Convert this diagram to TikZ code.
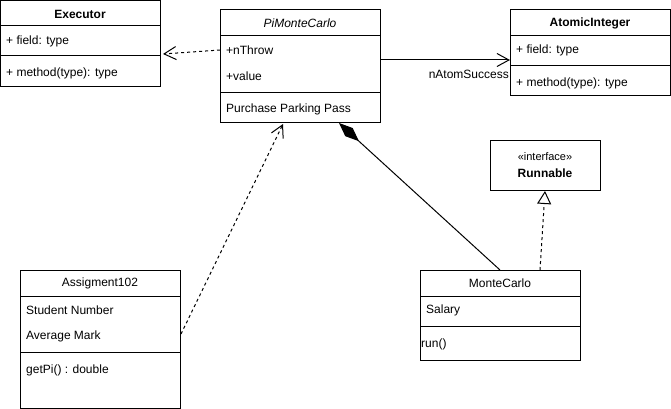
\documentclass[tikz,border=0pt]{standalone}
\usepackage{fontspec}
\setmainfont{Liberation Sans}
\usetikzlibrary{arrows.meta}
\begin{document}
\begin{tikzpicture}[x=1pt,y=-1pt,
  cls/.style={draw, line width=1pt, anchor=north west, inner sep=0pt, outer sep=0pt, minimum width=#1},
  txt/.style={anchor=west, inner sep=0pt, font=\fontsize{12}{14}\selectfont},
  ttl/.style={inner sep=0pt, font=\fontsize{12}{14}\selectfont},
  sep/.style={line width=1pt},
  dsh/.style={dash pattern=on 3pt off 3pt},
  barbtip/.style={-{Straight Barb[length=12pt,width=13pt,line width=1pt]}},
  conn/.style={line width=1pt}]
\useasboundingbox (0,0) rectangle (671,409);

% Executor
\node[cls=160pt, minimum height=86pt] (exec) at (0.5,0.5) {};
\draw[sep] (0.5,26) -- (160.5,26);
\draw[sep] (0.5,56) -- (160.5,56);
\node[ttl, font=\fontsize{12}{14}\selectfont\bfseries] (exect) at (80,14) {Executor};
\node[txt] (execf) at (6,41) {+ field: type};
\node[txt] (execm) at (6,73) {+ method(type): type};

% PiMonteCarlo
\node[cls=160pt, minimum height=112pt] (pmc) at (220,10) {};
\draw[sep] (220,36) -- (380,36);
\draw[sep] (220,93) -- (380,93);
\node[ttl, font=\fontsize{12}{14}\selectfont\itshape] (pmct) at (300,23) {PiMonteCarlo};
\node[txt] (pmca) at (226,50) {+nThrow};
\node[txt] (pmcb) at (226,76) {+value};
\node[txt] (pmcm) at (226,109) {Purchase Parking Pass};

% AtomicInteger
\node[cls=160pt, minimum height=86pt] (atom) at (510,10) {};
\draw[sep] (510,36) -- (670,36);
\draw[sep] (510,66) -- (670,66);
\node[ttl, font=\fontsize{12}{14}\selectfont\bfseries] (atomt) at (590,23) {AtomicInteger};
\node[txt] (atomf) at (516,50) {+ field: type};
\node[txt] (atomm) at (516,83) {+ method(type): type};

% Runnable
\node[cls=110pt, minimum height=50pt] (run) at (490,140) {};
\node[ttl, font=\fontsize{11}{13}\selectfont] (runs) at (545,157) {«interface»};
\node[ttl, font=\fontsize{12}{14}\selectfont\bfseries] (runt) at (545,173) {Runnable};

% Assigment102
\node[cls=160pt, minimum height=138pt] (asg) at (20,270) {};
\draw[sep] (20,296) -- (180,296);
\draw[sep] (20,352) -- (180,352);
\node[ttl] (asgt) at (100,283) {Assigment102};
\node[txt] (asga) at (26,310) {Student Number};
\node[txt] (asgb) at (26,336) {Average Mark};
\node[txt] (asgm) at (26,370) {getPi() : double};

% MonteCarlo
\node[cls=160pt, minimum height=90pt] (mc) at (420,270) {};
\draw[sep] (420,296) -- (580,296);
\draw[sep] (420,326) -- (580,326);
\node[ttl] (mct) at (500,283) {MonteCarlo};
\node[txt] (mca) at (426,310) {Salary};
\node[txt] (mcm) at (421,344) {run()};

% connector end points
\coordinate (pmcL) at (220,50);
\coordinate (execR) at (163,54);
\coordinate (pmcR) at (380,60);
\coordinate (atomL) at (510,60);
\coordinate (asgR) at (181,334);
\coordinate (pmcB1) at (283,124);
\coordinate (pmcB2) at (339,123);
\coordinate (mcT1) at (500,270);
\coordinate (mcT2) at (540,270);
\coordinate (runB) at (545,191);

\draw[conn, dsh, barbtip] (pmcL) -- (execR);
\draw[conn, barbtip] (pmcR) -- (atomL);
\node[anchor=east, inner sep=0pt, font=\fontsize{12}{14}\selectfont] (lbl) at (509,74) {nAtomSuccess};
\draw[conn, dsh, barbtip] (asgR) -- (pmcB1);
\draw[conn, -{Diamond[length=27pt,width=11pt]}] (mcT1) -- (pmcB2);
\draw[conn, dsh, -{Triangle[open,length=13pt,width=14pt,line width=1pt]}] (mcT2) -- (runB);
\end{tikzpicture}
\end{document}
